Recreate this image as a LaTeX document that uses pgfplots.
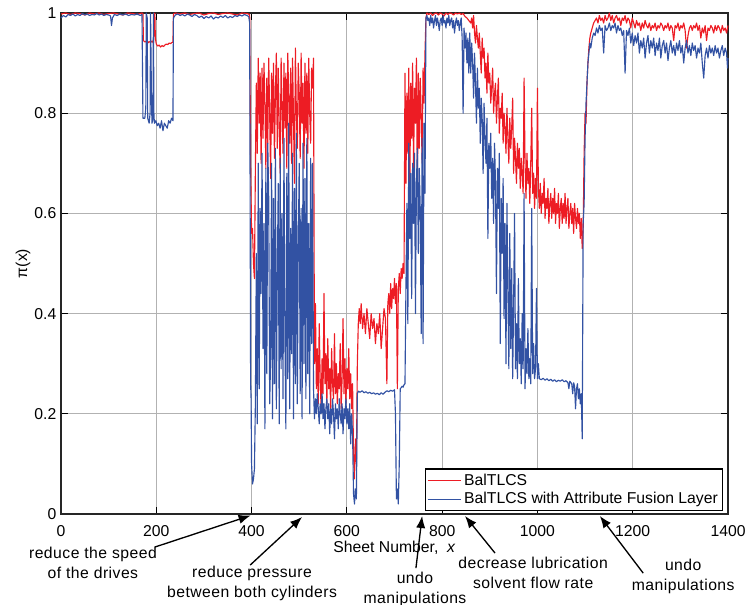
\documentclass[border=0pt]{standalone}
\usepackage{pgfplots}
\pgfplotsset{compat=1.18}
\usepackage{fontspec}
\setmainfont{Liberation Sans}
\newfontfamily\annfont[LetterSpace=3]{Liberation Sans}
\usetikzlibrary{arrows.meta}

\definecolor{cred}{RGB}{237,28,36}
\definecolor{cblue}{RGB}{50,82,163}
\newcommand{\fs}{\fontsize{11.8}{15}\selectfont}

\begin{document}
\begin{tikzpicture}
% page = reference frame, axis box lower-left at (0,0)
\path[use as bounding box] (-45.75pt,-68.25pt) rectangle (513pt,385.5pt);
\begin{axis}[
    scale only axis,
    width=500.25pt, height=375.75pt,
    xmin=0, xmax=1400, ymin=0, ymax=1,
    xtick={0,200,...,1400},
    ytick={0,0.2,0.4,0.6,0.8,1},
    xtick pos=both, ytick pos=both, tick align=inside,
    major tick length=5pt,
    tick style={black, line width=0.8pt},
    grid=major,
    grid style={black!30, line width=0.6pt},
    axis line style={black!85, line width=1.1pt},
    /pgf/number format/assume math mode=true,
    /pgf/number format/1000 sep={},
    tick label style={font=\fs},
    xticklabel style={yshift=-5pt},
    xlabel={Sheet Number,\ \ \textit{x}},
    ylabel={π(x)},
    label style={font=\fs},
    xlabel style={at={(axis description cs:0.5,0)}, anchor=center, yshift=-25.5pt},
    ylabel style={at={(axis description cs:0,0.5)}, anchor=center, yshift=28.5pt},
    legend style={at={(axis cs:1400,0)}, anchor=south east, xshift=-3.75pt, yshift=2.25pt,
        font=\fs, draw=black, line width=0.8pt, inner sep=1.5pt, row sep=0pt,
        cells={anchor=west}},
    legend image code/.code={\draw[#1] (0pt,0pt) -- (25pt,0pt);},
    clip=false,
    every axis plot/.append style={line width=0.85pt, line join=round, no markers},
]
% BalTLCS
\addplot[cred] coordinates {
(0,0.998) (10,1) (20,0.997) (30,1) (40,0.999) (50,0.996) (60,1) (70,0.998) (80,1) (90,0.997) (100,0.999) (110,1) (120,0.998) (130,0.996) (140,1) (150,0.999) (160,0.997) (170,1)
(172,0.998) (173,0.945) (176,0.942) (179,0.944) (182,0.94) (185,0.943) (188,0.941) (191,0.944) (194,0.94) (196,0.99) (197,1) (198,0.95) (200,0.938) (203,0.934) (206,0.936) (209,0.932) (212,0.935) (215,0.933) (218,0.936) (221,0.938) (224,0.937) (227,0.94) (230,0.939) (233,0.941) (235,0.942) (236,0.998)
(240,1) (250,0.998) (260,1) (270,0.997) (280,0.999) (290,1) (300,0.996) (310,0.999) (320,1) (330,0.997) (340,0.999) (350,1) (360,0.998) (370,0.996) (380,1) (390,0.999) (396,0.997)
(398,0.70) (400,0.56) (402,0.57) (404,0.50) (406,0.47) (408,0.69) (410,0.86) (412,0.72) (414,0.91) (416,0.78) (418,0.88) (420,0.70) (422,0.89) (424,0.75) (426,0.90) (428,0.82) (430,0.69) (432,0.87) (434,0.74) (436,0.91) (438,0.80) (440,0.67) (442,0.88) (444,0.76) (446,0.90) (448,0.71) (450,0.84) (452,0.92) (454,0.73) (456,0.89) (458,0.78) (460,0.68) (462,0.91) (464,0.81) (466,0.72) (468,0.90) (470,0.77) (472,0.88) (474,0.69) (476,0.92) (478,0.83) (480,0.74) (482,0.89) (484,0.70) (486,0.91) (488,0.79) (490,0.66) (492,0.93) (494,0.80) (496,0.73) (498,0.90) (500,0.84) (502,0.71) (504,0.92) (506,0.78) (508,0.86) (510,0.69) (512,0.90) (514,0.76) (516,0.88) (518,0.72) (520,0.91) (522,0.80) (524,0.74) (526,0.89) (528,0.85) (530,0.91)
(532,0.30) (534,0.42) (536,0.25) (538,0.33) (540,0.22) (542,0.38) (544,0.27) (546,0.21) (548,0.31) (550,0.24) (552,0.44) (554,0.26) (556,0.32) (558,0.22) (560,0.35) (562,0.25) (564,0.29) (566,0.21) (568,0.33) (570,0.26) (572,0.23) (574,0.36) (576,0.24) (578,0.30) (580,0.22) (582,0.28) (584,0.25) (586,0.34) (588,0.21) (590,0.27) (592,0.39) (594,0.24) (596,0.31) (598,0.22) (600,0.29) (602,0.25) (604,0.33) (606,0.23) (608,0.28) (610,0.21) (612,0.26) (614,0.12) (616,0.07) (618,0.15) (620,0.10) (622,0.30) (624,0.38)
(626,0.41) (628,0.38) (630,0.42) (633,0.37) (636,0.40) (639,0.36) (642,0.41) (645,0.38) (648,0.35) (651,0.40) (654,0.37) (657,0.39) (660,0.34) (663,0.38) (666,0.36) (669,0.40) (672,0.33) (675,0.37) (678,0.41) (681,0.39) (684,0.26) (686,0.42) (688,0.44) (690,0.40) (692,0.46) (694,0.41) (696,0.45) (698,0.43) (700,0.47) (702,0.42) (704,0.46) (706,0.25) (708,0.45) (710,0.48) (712,0.44) (714,0.49) (716,0.47) (718,0.50) (720,0.48)
(722,0.88) (724,0.66) (726,0.84) (728,0.72) (730,0.89) (732,0.63) (734,0.86) (736,0.75) (738,0.90) (740,0.69) (742,0.85) (744,0.78) (746,0.91) (748,0.64) (750,0.88) (752,0.73) (754,0.87) (756,0.80) (758,0.70) (760,0.89) (762,0.82) (764,0.92) (766,0.99)
(768,1) (772,0.997) (776,1) (780,0.995) (784,0.999) (788,1) (792,0.996) (796,1) (800,0.998) (804,0.994) (808,1) (812,0.997) (816,1) (820,0.999) (824,0.996) (828,1) (832,0.998) (836,1) (840,0.997) (844,0.999) (848,0.993) (852,0.99) (856,0.985) (860,0.98)
(862,0.99) (864,0.97) (866,0.995) (868,0.96) (870,0.94) (872,0.975) (874,0.95) (876,0.93) (878,0.96) (880,0.92) (882,0.88) (884,0.95) (886,0.91) (888,0.93) (890,0.87) (892,0.90) (894,0.84) (896,0.92) (898,0.86) (900,0.88) (902,0.82) (904,0.85) (906,0.89) (908,0.80) (910,0.84) (912,0.86) (914,0.78) (916,0.83) (918,0.87) (920,0.76) (922,0.81) (924,0.79) (926,0.84) (928,0.74) (930,0.80) (932,0.77) (934,0.72) (936,0.81) (938,0.75) (940,0.70) (942,0.79) (944,0.73) (946,0.77) (948,0.83) (950,0.68) (952,0.75) (954,0.71) (956,0.66) (958,0.74) (960,0.69) (962,0.73) (964,0.65) (966,0.71) (968,0.68) (970,0.64) (972,0.87) (974,0.70) (976,0.63) (978,0.72) (980,0.66) (982,0.69) (984,0.62) (986,0.70) (988,0.81) (990,0.64) (992,0.68) (994,0.61) (996,0.67) (998,0.63) (1000,0.85) (1002,0.65) (1004,0.61) (1006,0.66) (1008,0.60) (1010,0.64) (1012,0.62) (1014,0.67) (1016,0.59) (1018,0.63) (1020,0.61) (1022,0.65) (1024,0.58) (1026,0.62) (1028,0.64) (1030,0.59) (1032,0.63) (1034,0.60) (1036,0.65) (1038,0.58) (1040,0.62) (1042,0.60) (1044,0.64) (1046,0.57) (1048,0.61) (1050,0.63) (1052,0.58) (1054,0.62) (1056,0.59) (1058,0.64) (1060,0.58) (1062,0.61) (1064,0.63) (1066,0.57) (1068,0.60) (1070,0.62) (1072,0.58) (1074,0.61) (1076,0.56) (1078,0.62) (1080,0.59) (1082,0.57) (1084,0.61) (1086,0.58) (1088,0.60) (1090,0.55) (1092,0.59) (1094,0.53) (1096,0.57)
(1098,0.72) (1100,0.80) (1102,0.78) (1104,0.86) (1106,0.90) (1108,0.93) (1110,0.95) (1112,0.96) (1115,0.97) (1118,0.98) (1121,0.985) (1124,0.99) (1127,0.98) (1130,0.995) (1133,0.985) (1136,0.99) (1139,0.98) (1142,0.995) (1145,0.985) (1148,0.99) (1151,1) (1154,0.985) (1157,0.995) (1160,0.98) (1163,0.99) (1166,0.995) (1169,0.985) (1172,0.99) (1175,0.975) (1178,0.99) (1181,0.985) (1184,0.995) (1187,0.98) (1190,0.99) (1193,0.985) (1196,0.97) (1199,0.99)
(1202,0.98) (1205,0.97) (1208,0.985) (1211,0.975) (1214,0.98) (1217,0.965) (1220,0.98) (1223,0.97) (1226,0.985) (1229,0.975) (1232,0.97) (1235,0.98) (1238,0.965) (1241,0.975) (1244,0.97) (1247,0.98) (1250,0.965) (1253,0.975) (1256,0.97) (1259,0.98) (1262,0.975) (1265,0.965) (1268,0.975) (1271,0.97) (1274,0.98) (1277,0.965) (1280,0.975) (1283,0.97) (1286,0.945) (1289,0.975) (1292,0.97) (1295,0.98) (1298,0.965) (1301,0.975) (1304,0.97) (1307,0.98) (1310,0.965) (1313,0.93) (1316,0.955) (1319,0.97) (1322,0.975) (1325,0.965) (1328,0.975) (1331,0.97) (1334,0.98) (1337,0.965) (1340,0.975) (1343,0.95) (1346,0.97) (1349,0.96) (1352,0.975) (1355,0.945) (1358,0.97) (1361,0.965) (1364,0.975) (1367,0.97) (1370,0.96) (1373,0.975) (1376,0.965) (1379,0.975) (1382,0.97) (1385,0.96) (1388,0.975) (1391,0.965) (1394,0.97) (1397,0.96) (1400,0.975)
};
\addlegendentry{BalTLCS}
% BalTLCS with Attribute Fusion Layer
\addplot[cblue] coordinates {
(0,0.99) (5,0.995) (10,0.992) (15,0.997) (20,0.995) (25,0.998) (30,0.994) (35,0.997) (40,0.995) (45,0.999) (50,0.996) (55,0.998) (60,0.995) (65,0.997) (70,0.996) (75,0.999) (80,0.996) (85,0.998) (90,0.995) (95,0.997) (100,0.996) (104,0.994) (106,0.975) (108,0.99) (112,0.997) (118,0.995) (124,0.998) (130,0.996) (136,0.998) (142,0.995) (148,0.997) (154,0.996) (160,0.998) (166,0.995) (170,0.997)
(172,0.79) (176,0.79) (178,0.81) (179,1) (181,0.99) (182,0.79) (185,0.78) (187,0.80) (188,1) (190,0.82) (191,0.78) (193,0.79) (194,1) (195,0.80) (196,0.78) (199,0.785) (202,0.775) (205,0.78) (208,0.77) (211,0.785) (214,0.765) (217,0.78) (220,0.775) (223,0.77) (226,0.785) (229,0.78) (232,0.79) (235,0.785) (236,0.99)
(240,0.996) (245,0.998) (250,0.995) (255,0.997) (260,0.994) (265,0.998) (270,0.996) (275,0.993) (280,0.997) (285,0.995) (290,0.991) (295,0.994) (300,0.989) (305,0.993) (310,0.99) (315,0.994) (320,0.988) (325,0.992) (330,0.99) (335,0.994) (340,0.991) (345,0.995) (350,0.99) (355,0.993) (360,0.991) (365,0.995) (370,0.993) (375,0.996) (380,0.994) (385,0.997) (390,0.995) (394,0.993) (396,0.98)
(398,0.26) (399,0.23) (400,0.10) (402,0.06) (404,0.07) (406,0.09) (408,0.22) (410,0.52) (412,0.18) (414,0.70) (416,0.25) (418,0.61) (420,0.44) (422,0.72) (424,0.33) (426,0.58) (428,0.17) (430,0.69) (432,0.28) (434,0.74) (436,0.63) (438,0.22) (440,0.31) (442,0.70) (444,0.19) (446,0.63) (448,0.26) (450,0.73) (452,0.21) (454,0.48) (456,0.66) (458,0.18) (460,0.71) (462,0.29) (464,0.60) (466,0.23) (468,0.75) (470,0.35) (472,0.17) (474,0.68) (476,0.27) (478,0.78) (480,0.21) (482,0.57) (484,0.32) (486,0.72) (488,0.19) (490,0.65) (492,0.26) (494,0.76) (496,0.22) (498,0.53) (500,0.70) (502,0.24) (504,0.61) (506,0.19) (508,0.74) (510,0.30) (512,0.67) (514,0.23) (516,0.75) (518,0.28) (520,0.58) (522,0.20) (524,0.71) (526,0.34) (528,0.70) (530,0.25)
(532,0.19) (534,0.23) (536,0.20) (538,0.24) (540,0.21) (542,0.18) (544,0.22) (546,0.20) (548,0.24) (550,0.19) (552,0.22) (554,0.17) (556,0.21) (558,0.23) (560,0.19) (562,0.22) (564,0.16) (566,0.21) (568,0.18) (570,0.23) (572,0.20) (574,0.15) (576,0.22) (578,0.19) (580,0.21) (582,0.17) (584,0.23) (586,0.20) (588,0.18) (590,0.22) (592,0.16) (594,0.21) (596,0.19) (598,0.23) (600,0.18) (602,0.21) (604,0.17) (606,0.22) (608,0.14) (610,0.20) (612,0.16) (614,0.04) (616,0.02) (618,0.05) (620,0.03) (622,0.24)
(624,0.245) (628,0.243) (632,0.246) (636,0.242) (640,0.244) (644,0.241) (648,0.243) (652,0.240) (656,0.242) (660,0.239) (664,0.241) (668,0.238) (672,0.242) (676,0.239) (680,0.243) (684,0.246) (688,0.244) (692,0.247) (696,0.245) (700,0.248) (702,0.20) (704,0.03) (706,0.05) (708,0.02) (710,0.10) (712,0.25) (714,0.252) (716,0.255) (718,0.253) (720,0.258) (722,0.26)
(724,0.45) (726,0.62) (728,0.38) (730,0.74) (732,0.55) (734,0.68) (736,0.43) (738,0.70) (740,0.58) (742,0.72) (744,0.40) (746,0.66) (748,0.73) (750,0.52) (752,0.69) (754,0.61) (756,0.36) (758,0.75) (760,0.34) (762,0.78) (764,0.64) (766,0.99)
(768,0.995) (770,0.985) (772,0.99) (774,0.975) (776,0.995) (778,0.98) (780,0.99) (782,0.97) (784,0.985) (786,0.995) (788,0.975) (790,0.99) (792,0.98) (794,0.965) (796,0.985) (798,0.99) (800,0.975) (802,0.995) (804,0.98) (806,0.985) (808,0.97) (810,0.99) (812,0.98) (814,0.995) (816,0.975) (818,0.985) (820,0.99) (822,0.97) (824,0.985) (826,0.96) (828,0.98) (830,0.99) (832,0.975) (834,0.985) (836,0.965) (838,0.98) (840,0.99) (842,0.95) (844,0.80) (846,0.97) (848,0.93) (850,0.96) (852,0.90) (854,0.95) (856,0.88)
(858,0.96) (860,0.88) (862,0.94) (864,0.90) (866,0.83) (868,0.92) (870,0.86) (872,0.78) (874,0.89) (876,0.81) (878,0.85) (880,0.74) (882,0.83) (884,0.79) (886,0.68) (888,0.82) (890,0.75) (892,0.70) (894,0.79) (896,0.55) (898,0.74) (900,0.69) (902,0.76) (904,0.63) (906,0.71) (908,0.58) (910,0.74) (912,0.66) (914,0.44) (916,0.69) (918,0.61) (920,0.72) (922,0.34) (924,0.63) (926,0.52) (928,0.67) (930,0.39) (932,0.58) (934,0.30) (936,0.62) (938,0.45) (940,0.29) (942,0.56) (944,0.33) (946,0.49) (948,0.27) (950,0.42) (952,0.60) (954,0.29) (956,0.38) (958,0.27) (960,0.47) (962,0.30) (964,0.35) (966,0.26) (968,0.40) (970,0.29) (972,0.64) (974,0.25) (976,0.33) (978,0.28) (980,0.37) (982,0.27) (984,0.31) (986,0.26) (988,0.61) (990,0.28) (992,0.34) (994,0.27) (996,0.29) (998,0.45) (1000,0.27) (1002,0.30) (1004,0.27)
(1008,0.268) (1012,0.271) (1016,0.267) (1020,0.27) (1024,0.266) (1028,0.269) (1032,0.265) (1036,0.268) (1040,0.264) (1044,0.267) (1048,0.265) (1052,0.268) (1056,0.264) (1060,0.266) (1064,0.262) (1066,0.25) (1068,0.265) (1072,0.26) (1074,0.24) (1076,0.262) (1078,0.255) (1080,0.21) (1082,0.25) (1084,0.26) (1086,0.23) (1088,0.25) (1090,0.22) (1092,0.24) (1094,0.15) (1096,0.58)
(1098,0.62) (1100,0.75) (1102,0.82) (1104,0.86) (1106,0.90) (1108,0.92) (1110,0.94) (1112,0.93) (1115,0.95) (1118,0.96) (1121,0.955) (1124,0.97) (1127,0.96) (1130,0.975) (1133,0.965) (1136,0.97) (1139,0.92) (1142,0.975) (1145,0.965) (1148,0.97) (1151,0.98) (1154,0.965) (1157,0.975) (1160,0.97) (1163,0.98) (1166,0.96) (1169,0.975) (1172,0.965) (1175,0.97) (1178,0.955) (1181,0.965) (1184,0.88) (1187,0.965) (1190,0.955) (1193,0.97) (1196,0.94) (1199,0.96)
(1202,0.935) (1205,0.955) (1208,0.94) (1211,0.96) (1214,0.92) (1217,0.945) (1220,0.93) (1223,0.95) (1226,0.91) (1229,0.94) (1232,0.955) (1235,0.92) (1238,0.945) (1241,0.93) (1244,0.95) (1247,0.915) (1250,0.94) (1253,0.925) (1256,0.95) (1259,0.91) (1262,0.935) (1265,0.945) (1268,0.92) (1271,0.94) (1274,0.905) (1277,0.93) (1280,0.945) (1283,0.92) (1286,0.935) (1289,0.915) (1292,0.94) (1295,0.925) (1298,0.945) (1301,0.92) (1304,0.935) (1307,0.90) (1310,0.93) (1313,0.945) (1316,0.92) (1319,0.935) (1322,0.915) (1325,0.94) (1328,0.925) (1331,0.935) (1334,0.91) (1337,0.93) (1340,0.92) (1343,0.94) (1346,0.90) (1349,0.87) (1352,0.915) (1355,0.93) (1358,0.91) (1361,0.935) (1364,0.92) (1367,0.93) (1370,0.915) (1373,0.935) (1376,0.92) (1379,0.93) (1382,0.91) (1385,0.925) (1388,0.935) (1391,0.915) (1394,0.93) (1397,0.92) (1399,0.89) (1400,0.91)
};
\addlegendentry{BalTLCS with Attribute Fusion Layer}

% annotations below the axis
\begin{scope}[every node/.style={font=\annfont\fs, align=center}]
\node at (axis cs:67,-0.098) {reduce the speed\\of the drives};
\node at (axis cs:401,-0.138) {reduce pressure\\between both cylinders};
\node at (axis cs:743,-0.150) {undo\\manipulations};
\node at (axis cs:991,-0.118) {decrease lubrication\\solvent flow rate};
\node at (axis cs:1306,-0.124) {undo\\manipulations};
\end{scope}
\begin{scope}[line width=1pt, -{Latex[length=9pt,width=7pt]}]
\draw (axis cs:197,-0.066) -- (axis cs:398,-0.003);
\draw (axis cs:397,-0.102) -- (axis cs:506,-0.006);
\draw (axis cs:745,-0.108) -- (axis cs:758,-0.004);
\draw (axis cs:911,-0.078) -- (axis cs:848,-0.004);
\draw (axis cs:1222,-0.118) -- (axis cs:1131,-0.004);
\end{scope}
\end{axis}
\end{tikzpicture}
\end{document}
